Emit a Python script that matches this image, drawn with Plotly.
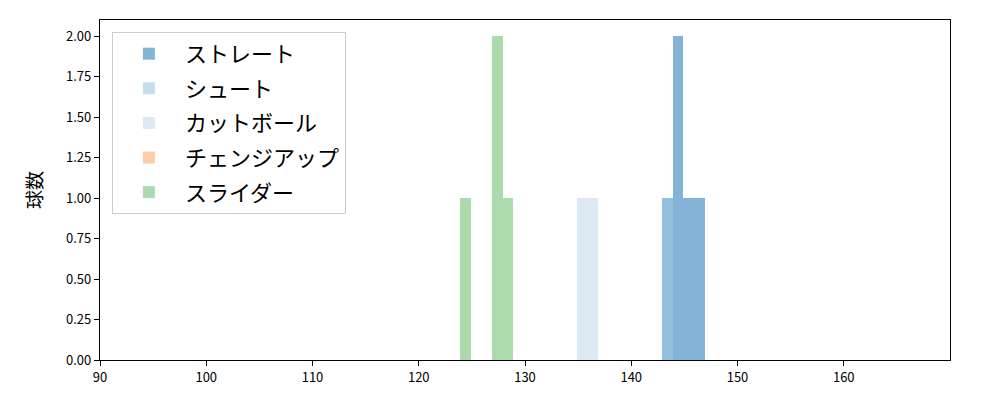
import plotly.graph_objects as go

# Histogram bins (left edges, width 1 km/h) and pitch counts per pitch type
straight_edges = [142.9, 143.9, 144.9, 145.9]
straight_counts = [1, 2, 1, 1]
shoot_edges = [142.9]
shoot_counts = [1]
cut_edges = [134.9, 135.9]
cut_counts = [1, 1]
change_edges = [None]
change_counts = [None]
slider_edges = [123.9, 126.9, 127.9]
slider_counts = [1, 2, 1]

names = ["ストレート", "シュート", "カットボール", "チェンジアップ", "スライダー"]
colors = ["#3182bd", "#9ecae1", "#c6dbef", "#fdae6b", "#74c476"]
series = [
    (straight_edges, straight_counts),
    (shoot_edges, shoot_counts),
    (cut_edges, cut_counts),
    (change_edges, change_counts),
    (slider_edges, slider_counts),
]

x_ticks = [90, 100, 110, 120, 130, 140, 150, 160]
y_ticks = [0, 0.25, 0.5, 0.75, 1.0, 1.25, 1.5, 1.75, 2.0]

FONT = "Noto Sans CJK JP"

fig = go.Figure()
for i, (name, color, (edges, counts)) in enumerate(zip(names, colors, series)):
    fig.add_trace(go.Bar(
        x=edges, y=counts, name=name,
        width=1, offset=0,
        marker=dict(color=color, line=dict(width=0)),
        opacity=0.6,
        legendgroup=f"g{i}",
        showlegend=True,
    ))

fig.update_layout(
    width=1000, height=400,
    margin=dict(l=100, r=50, t=20, b=40),
    paper_bgcolor="white", plot_bgcolor="white",
    barmode="overlay", bargap=0,
    font=dict(family=FONT, color="black", size=13),
    showlegend=True,
    legend=dict(
        x=0.014, y=0.965, xanchor="left", yanchor="top",
        bgcolor="rgba(255,255,255,0.8)", bordercolor="#cccccc", borderwidth=1,
        font=dict(family=FONT, size=22, color="black"),
        tracegroupgap=3,
        itemwidth=62,
    ),
)
fig.update_xaxes(
    range=[90, 170], tickmode="array", tickvals=x_ticks,
    ticktext=[str(v) for v in x_ticks],
    showgrid=False, zeroline=False,
    showline=True, linecolor="black", linewidth=1.2, mirror=True,
    ticks="outside", ticklen=5, tickwidth=1.2, tickcolor="black",
    tickfont=dict(size=13, family=FONT),
)
fig.update_yaxes(
    range=[0, 2.1], tickmode="array", tickvals=y_ticks,
    ticktext=[f"{v:.2f}" for v in y_ticks],
    showgrid=False, zeroline=False,
    showline=True, linecolor="black", linewidth=1.2, mirror=True,
    ticks="outside", ticklen=5, tickwidth=1.2, tickcolor="black",
    tickfont=dict(size=13, family=FONT),
    title=dict(text="球数", font=dict(size=19, family=FONT), standoff=18),
)

fig.write_html("out.html", config={"displayModeBar": False},
               post_script="document.body.style.margin='0';")
